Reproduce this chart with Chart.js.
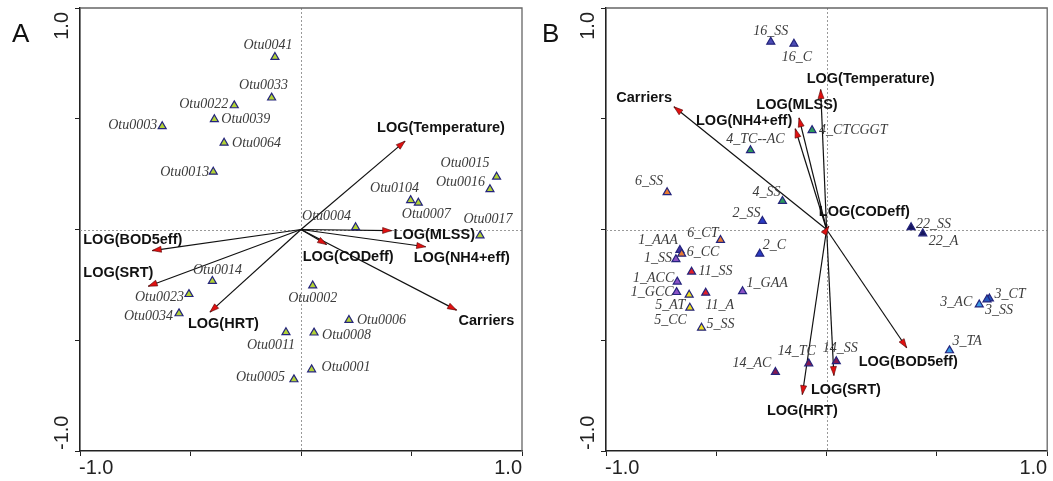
<!DOCTYPE html>
<html>
<head>
    <title>Ordination biplots</title>
    <script src="https://cdn.jsdelivr.net/npm/chart.js"></script>
    <style>
        body { margin: 0; background: #fff; }
        #wrap { position: relative; width: 1053px; height: 481px; }
        canvas { position: absolute; top: 0; }
    </style>
</head>
<body>
<div id="wrap">
    <canvas id="chartA" width="530" height="481" style="left:0px"></canvas>
    <canvas id="chartB" width="527" height="481" style="left:526px"></canvas>
</div>
<script>
// axis ticks, shared by both panels
const tickValues = [-1, -0.5, 0, 0.5, 1];
const tickLabels = ['-1.0', '', '', '', '1.0'];

// panel A: OTU scores
const otuNames = ['Otu0041', 'Otu0033', 'Otu0022', 'Otu0039', 'Otu0003', 'Otu0064', 'Otu0013',
    'Otu0015', 'Otu0016', 'Otu0104', 'Otu0007', 'Otu0004', 'Otu0017', 'Otu0014', 'Otu0023',
    'Otu0034', 'Otu0002', 'Otu0006', 'Otu0011', 'Otu0008', 'Otu0001', 'Otu0005'];
const otuX = [-0.118, -0.133, -0.302, -0.392, -0.628, -0.348, -0.397, 0.885, 0.855, 0.496, 0.531,
    0.247, 0.810, -0.401, -0.507, -0.552, 0.053, 0.217, -0.068, 0.059, 0.048, -0.032];
const otuY = [0.778, 0.595, 0.560, 0.497, 0.466, 0.391, 0.260, 0.238, 0.181, 0.132, 0.120,
    0.010, -0.027, -0.233, -0.292, -0.379, -0.253, -0.409, -0.464, -0.466, -0.632, -0.677];

// panel A: environmental vectors
const envNamesA = ['LOG(Temperature)', 'LOG(MLSS)', 'LOG(NH4+eff)', 'LOG(CODeff)', 'Carriers',
    'LOG(BOD5eff)', 'LOG(SRT)', 'LOG(HRT)'];
const envXA = [0.471, 0.410, 0.564, 0.116, 0.704, -0.673, -0.691, -0.412];
const envYA = [0.399, -0.005, -0.078, -0.068, -0.364, -0.095, -0.256, -0.373];

// panel B: sample scores
const sampleNames = ['16_SS', '16_C', '4_TC--AC', '4_CTCGGT', '6_SS', '4_SS', '2_SS', '22_SS',
    '22_A', '1_AAA', '6_CT', '6_CC', '1_SS', '2_C', '11_SS', '1_ACC', '1_GCC', '5_AT', '11_A',
    '1_GAA', '5_CC', '5_SS', '14_AC', '14_TC', '14_SS', '3_AC', '3_CT', '3_SS', '3_TA'];
const sampleX = [-0.253, -0.148, -0.345, -0.066, -0.723, -0.200, -0.291, 0.383, 0.436, -0.665,
    -0.481, -0.657, -0.683, -0.303, -0.612, -0.677, -0.680, -0.623, -0.548, -0.381, -0.620,
    -0.567, -0.232, -0.081, 0.044, 0.692, 0.738, 0.727, 0.557];
const sampleY = [0.847, 0.838, 0.357, 0.448, 0.168, 0.128, 0.038, 0.010, -0.018, -0.093, -0.048,
    -0.110, -0.135, -0.110, -0.191, -0.236, -0.283, -0.295, -0.286, -0.279, -0.354, -0.444,
    -0.644, -0.605, -0.595, -0.339, -0.312, -0.316, -0.546];

// panel B: environmental vectors
const envNamesB = ['Carriers', 'LOG(NH4+eff)', 'LOG(MLSS)', 'LOG(Temperature)', 'LOG(CODeff)',
    'LOG(BOD5eff)', 'LOG(SRT)', 'LOG(HRT)'];
const envXB = [-0.692, -0.142, -0.125, -0.027, 0.010, 0.363, 0.033, -0.110];
const envYB = [0.554, 0.455, 0.504, 0.632, 0.015, -0.534, -0.659, -0.745];

// label placement: [dx, dy, align] in pixels from the mark
const otuLabelPos = {
    Otu0041: [-7, -12, 'center'], Otu0033: [-8, -12, 'center'], Otu0022: [-6, -1, 'right'],
    Otu0039: [7, 0, 'left'], Otu0003: [-5, -1, 'right'], Otu0064: [8, 0, 'left'],
    Otu0013: [-4, 0, 'right'], Otu0015: [-7, -13, 'right'], Otu0016: [-5, -7, 'right'],
    Otu0104: [-16, -12, 'center'], Otu0007: [8, 11, 'center'], Otu0004: [-29, -11, 'center'],
    Otu0017: [8, -16, 'center'], Otu0014: [5, -11, 'center'], Otu0023: [-5, 3, 'right'],
    Otu0034: [-6, 3, 'right'], Otu0002: [0, 13, 'center'], Otu0006: [8, 0, 'left'],
    Otu0011: [-15, 13, 'center'], Otu0008: [8, 3, 'left'], Otu0001: [10, -2, 'left'],
    Otu0005: [-9, -2, 'right']
};
const envLabelPosA = [[-28, -13, 'left'], [2, 4, 'left'], [-12, 11, 'left'], [-24, 12, 'left'],
    [2, 11, 'left'], [-69, -11, 'left'], [-65, -13, 'left'], [-22, 12, 'left']];
const sampleLabelPos = {
    '16_SS': [0, -11, 'center'], '16_C': [3, 13, 'center'], '4_TC--AC': [5, -11, 'center'],
    '4_CTCGGT': [7, 0, 'left'], '6_SS': [-18, -11, 'center'], '4_SS': [-16, -9, 'center'],
    '2_SS': [-16, -8, 'center'], '22_SS': [5, -3, 'left'], '22_A': [6, 8, 'left'],
    '1_AAA': [-2, -10, 'right'], '6_CT': [-2, -7, 'right'], '6_CC': [5, -2, 'left'],
    '1_SS': [-4, -1, 'right'], '2_C': [3, -9, 'left'], '11_SS': [7, 0, 'left'],
    '1_ACC': [-3, -3, 'right'], '1_GCC': [-3, 0, 'right'], '5_AT': [-4, 10, 'right'],
    '11_A': [14, 12, 'center'], '1_GAA': [4, -8, 'left'], '5_CC': [-3, 12, 'right'],
    '5_SS': [5, -4, 'left'], '14_AC': [-4, -9, 'right'], '14_TC': [-12, -12, 'center'],
    '14_SS': [4, -13, 'center'], '3_AC': [-7, -2, 'right'], '3_CT': [5, -4, 'left'],
    '3_SS': [-2, 11, 'left'], '3_TA': [3, -9, 'left']
};
const envLabelPosB = [[-2, -9, 'right'], [-3, -8, 'right'], [-2, -13, 'center'], [-14, -11, 'left'],
    [-10, -14, 'left'], [-48, 14, 'left'], [-23, 15, 'left'], [0, 16, 'center']];

// fill colour of a sample triangle, by reactor prefix
const groupColors = {
    '1': '#8a52c6', '2': '#2a3cc6', '3': '#2658bd', '4': '#2c9a5c', '5': '#efe020',
    '6': '#e87a32', '11': '#e01e28', '14': '#861850', '16': '#4c4cb4', '22': '#16165e'
};
function sampleColor(name) {
    if (name === '1_AAA') return '#4332a4';
    if (name === '3_AC' || name === '3_TA') return '#3a9ae6';
    return groupColors[name.split('_')[0]];
}

const serifFont = 'italic 14px "Liberation Serif", "DejaVu Serif", serif';
const boldFont = 'bold 14.5px "Liberation Sans", Arial, sans-serif';

// frame, zero lines, tick labels, arrowheads and text labels
const biplotPlugin = {
    id: 'biplot',
    beforeDatasetsDraw(chart) {
        const { ctx, chartArea: a, scales } = chart;
        ctx.save();
        ctx.strokeStyle = '#999';
        ctx.lineWidth = 1;
        ctx.setLineDash([2, 2]);
        const x0 = Math.round(scales.x.getPixelForValue(0)) + 0.5;
        const y0 = Math.round(scales.y.getPixelForValue(0)) + 0.5;
        ctx.beginPath();
        ctx.moveTo(x0, a.top); ctx.lineTo(x0, a.bottom);
        ctx.moveTo(a.left, y0); ctx.lineTo(a.right, y0);
        ctx.stroke();
        ctx.setLineDash([]);
        ctx.strokeStyle = '#666';
        ctx.lineWidth = 1.3;
        ctx.beginPath();
        ctx.moveTo(a.left, a.top); ctx.lineTo(a.right, a.top); ctx.lineTo(a.right, a.bottom);
        ctx.stroke();
        ctx.restore();
    },
    afterDatasetsDraw(chart, args, opts) {
        const { ctx, chartArea: a, scales } = chart;
        ctx.save();
        // arrowheads at the end of each vector
        chart.data.datasets.forEach((ds, i) => {
            if (!ds.isVector) return;
            const meta = chart.getDatasetMeta(i);
            const p0 = meta.data[0], p1 = meta.data[1];
            const ang = Math.atan2(p1.y - p0.y, p1.x - p0.x);
            const len = 9, half = 3;
            ctx.save();
            ctx.translate(p1.x, p1.y);
            ctx.rotate(ang);
            ctx.beginPath();
            ctx.moveTo(0, 0);
            ctx.lineTo(-len, -half);
            ctx.lineTo(-len, half);
            ctx.closePath();
            ctx.fillStyle = '#e01010';
            ctx.fill();
            ctx.strokeStyle = '#5a0a0a';
            ctx.lineWidth = 0.6;
            ctx.stroke();
            ctx.restore();
        });
        // labels
        ctx.textBaseline = 'middle';
        chart.data.datasets.forEach((ds, i) => {
            const meta = chart.getDatasetMeta(i);
            if (ds.isVector) {
                const pt = meta.data[1];
                const [dx, dy, al] = ds.labelPos;
                ctx.font = boldFont;
                ctx.fillStyle = '#111';
                ctx.textAlign = al;
                ctx.fillText(ds.label, pt.x + dx, pt.y + dy);
            } else {
                ctx.font = serifFont;
                ctx.fillStyle = '#3c3c3c';
                meta.data.forEach((pt, j) => {
                    const [dx, dy, al] = ds.labelPos[j];
                    ctx.textAlign = al;
                    ctx.fillText(ds.names[j], pt.x + dx, pt.y + dy);
                });
            }
        });
        // tick labels at the ends of both axes
        ctx.font = '20px "Liberation Sans", Arial, sans-serif';
        ctx.fillStyle = '#222';
        tickValues.forEach((v, i) => {
            if (!tickLabels[i]) return;
            const px = scales.x.getPixelForValue(v);
            ctx.textAlign = i === 0 ? 'left' : 'right';
            ctx.fillText(tickLabels[i], i === 0 ? px - 1 : px, a.bottom + 17);
            const py = scales.y.getPixelForValue(v);
            ctx.save();
            ctx.translate(a.left - 18, i === 0 ? py - 1 : py + 4);
            ctx.rotate(-Math.PI / 2);
            ctx.textAlign = i === 0 ? 'left' : 'right';
            ctx.fillText(tickLabels[i], 0, 0);
            ctx.restore();
        });
        // panel letter
        ctx.font = '26px "Liberation Sans", Arial, sans-serif';
        ctx.fillStyle = '#111';
        ctx.textAlign = 'left';
        ctx.textBaseline = 'alphabetic';
        ctx.fillText(opts.letter, opts.letterX, 42);
        ctx.restore();
    }
};

function axis() {
    return {
        type: 'linear', min: -1, max: 1,
        afterBuildTicks: s => { s.ticks = tickValues.map(v => ({ value: v })); },
        ticks: { display: false },
        grid: { drawOnChartArea: false, drawTicks: true, tickLength: 5, color: '#222', lineWidth: 1 },
        border: { display: true, color: '#222', width: 1.6 }
    };
}

function makeChart(id, names, xs, ys, colors, labelPos, envNames, envX, envY, envPos, letter, letterX, padRight) {
    const datasets = envNames.map((n, i) => ({
        label: n,
        isVector: true,
        labelPos: envPos[i],
        data: [{ x: 0, y: 0 }, { x: envX[i], y: envY[i] }],
        showLine: true,
        borderColor: '#111',
        borderWidth: 1.2,
        pointRadius: 0,
        order: 2
    }));
    datasets.push({
        label: 'scores',
        names: names,
        labelPos: names.map(n => labelPos[n]),
        data: names.map((n, i) => ({ x: xs[i], y: ys[i] })),
        pointStyle: 'triangle',
        pointRadius: 4.6,
        pointBackgroundColor: colors,
        pointBorderColor: '#24247c',
        pointBorderWidth: 1.2,
        clip: false,
        order: 1
    });
    const x = axis();
    x.afterFit = s => { s.height = 30; };
    const y = axis();
    y.afterFit = s => { s.width = 30; };
    return new Chart(document.getElementById(id), {
        type: 'scatter',
        data: { datasets },
        options: {
            responsive: false,
            animation: false,
            events: [],
            layout: { padding: { left: 50, right: padRight, top: 8, bottom: 0 } },
            scales: { x, y },
            plugins: {
                legend: { display: false },
                tooltip: { enabled: false },
                biplot: { letter, letterX }
            }
        },
        plugins: [biplotPlugin]
    });
}

makeChart('chartA', otuNames, otuX, otuY, otuNames.map(() => '#b2d236'), otuLabelPos,
    envNamesA, envXA, envYA, envLabelPosA, 'A', 12, 8);
makeChart('chartB', sampleNames, sampleX, sampleY, sampleNames.map(sampleColor), sampleLabelPos,
    envNamesB, envXB, envYB, envLabelPosB, 'B', 16, 5);
</script>
</body>
</html>
